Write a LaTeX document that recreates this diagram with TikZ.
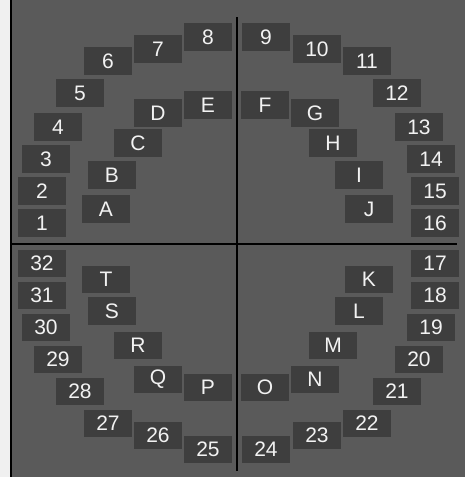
\documentclass[tikz,border=0pt]{standalone}
\usepackage{fontspec}
\setmainfont{Liberation Sans}
\usepackage{xcolor}
\definecolor{panelgray}{HTML}{5A5A5A}
\definecolor{boxgray}{HTML}{3E3E3E}
\definecolor{framelight}{HTML}{F0F0F0}
\definecolor{textlight}{HTML}{F2F2F2}

\begin{document}
\begin{tikzpicture}[x=1pt, y=-1pt]
  \tikzset{
    tnode/.style={rectangle, draw=none, fill=boxgray,
                  minimum width=48pt, minimum height=27.5pt, inner sep=0pt,
                  text=textlight, text centered, align=center,
                  font=\fontsize{21}{21}\selectfont},
    axis/.style={draw=black, line width=2pt}
  }
  \useasboundingbox (0,0) rectangle (465,477);
  % Frame and panel
  \fill[framelight] (0,0) rectangle (10,477);
  \fill[panelgray] (10,0) rectangle (465,477);
  \draw[black, line width=1.5pt] (10.75,0) -- (10.75,477);
  % Outer ring (numbers)
  \foreach \lbl/\x/\y in {1/42/223, 2/42/191, 3/46/159, 4/58/127,
      5/80/93, 6/108/61, 7/158/49, 8/208/37,
      9/266/37, 10/317/49, 11/367/61, 12/397/93,
      13/419/127, 14/431/159, 15/435/191, 16/435/223,
      17/435/263.5, 18/435/295.5, 19/431/327.5, 20/419/359.5,
      21/397/391.5, 22/367/423.5, 23/317/435.5, 24/266/449.5,
      25/208/449.5, 26/158/435.5, 27/108/423.5, 28/80/391.5,
      29/58/359.5, 30/46/327.5, 31/42/295.5, 32/42/263.5}
    \node[tnode] (n\lbl) at (\x,\y) {\lbl};
  % Inner ring (letters)
  \foreach \lbl/\x/\y in {A/106/209, B/112/175, C/138/143, D/158/113,
      E/208/105, F/265/105, G/315/113, H/333/143,
      I/359/175, J/369/209, K/369/279.5, L/359/311,
      M/333/345.5, N/315/379.5, O/265/387.5, P/208/387.5,
      Q/158/379.5, R/138/345.5, S/112/311, T/106/279.5}
    \node[tnode] (l\lbl) at (\x,\y) {\lbl};
  % Cross lines
  \coordinate (vtop) at (237,17);
  \coordinate (vbot) at (237,471);
  \coordinate (hleft) at (12,244);
  \coordinate (hright) at (457,244);
  \draw[axis] (vtop) -- (vbot);
  \draw[axis] (hleft) -- (hright);
\end{tikzpicture}
\end{document}
